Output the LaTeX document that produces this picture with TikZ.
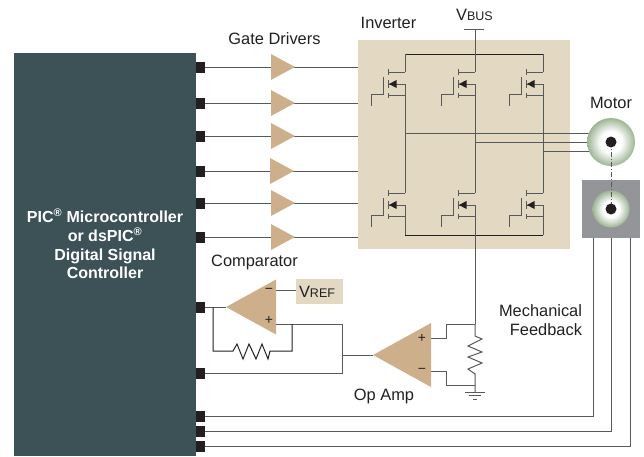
\documentclass[tikz,border=0pt]{standalone}
\usepackage{fontspec}
\setmainfont{Liberation Sans}
\usetikzlibrary{shapes.geometric}
\definecolor{mcucol}{HTML}{3C5257}
\definecolor{ampcol}{HTML}{CDB08B}
\definecolor{invcol}{HTML}{E3D9C3}
\definecolor{wirecol}{HTML}{58595B}
\definecolor{txtcol}{HTML}{231F20}
\definecolor{boxcol}{HTML}{939598}
\definecolor{rotorcol}{HTML}{9DB594}
\pgfdeclareradialshading{rotorshade}{\pgfpoint{0bp}{0bp}}{color(0bp)=(white); color(11bp)=(white); color(25bp)=(rotorcol); color(50bp)=(rotorcol)}
\tikzstyle{wire} = [wirecol,line width=1pt]
\tikzstyle{lbl} = [txtcol,font=\fontsize{16.4}{19}\selectfont,inner sep=0pt]
\tikzstyle{sign} = [txtcol,font=\fontsize{14}{16}\selectfont,inner sep=0pt]
\tikzstyle{padbox} = [fill=txtcol,minimum width=9pt,minimum height=11pt,inner sep=0pt,anchor=west]
\tikzstyle{amp} = [isosceles triangle,isosceles triangle stretches,fill=ampcol,inner sep=0pt,outer sep=0pt,anchor=apex]
\tikzstyle{rotor} = [circle,inner sep=0pt,outer sep=0pt,shading=rotorshade]
\tikzstyle{dot} = [circle,fill=txtcol,minimum size=11pt,inner sep=0pt]
\begin{document}
\begin{tikzpicture}[x=1pt,y=-1pt]
\useasboundingbox (0,0) rectangle (644,456);

%% controller
	\node[fill=mcucol,minimum width=182pt,minimum height=403pt,inner sep=0pt] (mcu) at (105,254.5) {};
	\node[white,align=center,font=\bfseries\fontsize{16}{18.7}\selectfont] (mculbl) at (105,244)
		{PIC\textsuperscript{\fontsize{11}{11}\selectfont\textregistered} Microcontroller\\or dsPIC\textsuperscript{\fontsize{11}{11}\selectfont\textregistered}\\Digital Signal\\Controller};

%% inverter
	\node[fill=invcol,minimum width=212pt,minimum height=209pt,inner sep=0pt] (inv) at (464,144.5) {};
	\node[lbl] (invlbl) at (388.5,23) {Inverter};

%% gate drivers
	\foreach \y/\x [count=\i] in {67/295,103/295,136/295,171/294,203/295,237/295} {
		\node[padbox] (pad\i) at (196,\y) {};
		\draw[wire] (pad\i.east) -- (pad\i.east -| inv.west);
		\node[amp,minimum width=26pt,minimum height=24pt] (drv\i) at (\x,\y) {};
	}
	\node[lbl] (drvlbl) at (274.5,39) {Gate Drivers};

%% rails
	\node[lbl] (vbus) at (474.5,15) {V{\fontsize{12.5}{15}\selectfont BUS}};
	\coordinate (bus) at (475,29);
	\coordinate (rail_a) at (405,54);
	\coordinate (rail_b) at (475,54);
	\coordinate (rail_c) at (543,54);
	\coordinate (gnd_a) at (405,235);
	\coordinate (gnd_c) at (543,235);
	\draw[wire] (464,29) -- (484,29);
	\draw[wire] (bus) -- (rail_b);
	\draw[txtcol,line width=1pt] (rail_a) -- (rail_c);
	\draw[txtcol,line width=1pt] (gnd_a) -- (gnd_c);

%% transistors
	\foreach \d in {405,475,543} {
		\foreach \t in {72,193} {
			\draw[wire] (\d-17,\t) -- (\d,\t);
			\draw[wire] (\d-17,\t+12) -- (\d,\t+12);
			\draw[wire] (\d-17,\t+23) -- (\d,\t+23);
			\draw[wire] (\d-17,\t-3) -- (\d-17,\t+3);
			\draw[wire] (\d-17,\t+8) -- (\d-17,\t+16);
			\draw[wire] (\d-17,\t+21) -- (\d-17,\t+26);
			\draw[wire] (\d-21.5,\t+5) -- (\d-21.5,\t+22) -- (\d-34,\t+22) -- (\d-34,\t+34);
			\fill[txtcol] (\d-16,\t+12) -- (\d-8.5,\t+8) -- (\d-8.5,\t+16) -- cycle;
		}
		\draw[wire] (\d,54) -- (\d,72);
		\draw[wire] (\d,84) -- (\d,193);
		\draw[wire] (\d,205) -- (\d,235);
	}

%% motor and feedback
	\node[fill=boxcol,minimum width=58pt,minimum height=58pt,inner sep=0pt] (fbbox) at (611,209) {};
	\coordinate (motor_w) at (600,142);
	\draw[wire] (405,133) -- (600,133);
	\draw[wire] (475,142) -- (motor_w);
	\draw[wire] (543,151) -- (600,151);
	\node[rotor,minimum size=48pt] (motor) at (611,142) {};
	\node[rotor,minimum size=37pt] (enc) at (611,209) {};
	\node[lbl] (motorlbl) at (611,103) {Motor};
	\draw[wirecol,line width=1pt,dash pattern=on 5pt off 2pt on 1pt off 2pt] (motor.center) -- (enc.center);
	\node[dot] (motordot) at (motor.center) {};
	\node[dot] (encdot) at (enc.center) {};
	\foreach \y/\x [count=\i from 7] in {416/593,431/611,446/630} {
		\node[padbox] (pad\i) at (196,\y) {};
		\draw[wire] (pad\i.east) -- (\x,\y) -- (\x,238);
	}
	\node[lbl,align=right] (fblbl) at (540.5,320) {Mechanical\\Feedback};

%% comparator
	\node[padbox] (pad10) at (196,307) {};
	\node[padbox] (pad11) at (196,373) {};
	\node[fill=invcol,minimum width=47pt,minimum height=25pt,inner sep=0pt] (vref) at (319.5,291.5) {};
	\node[lbl] (vreflbl) at (317,292) {V{\fontsize{12.5}{15}\selectfont REF}};
	\coordinate (fb_a) at (213,307);
	\coordinate (fb_b) at (213,351);
	\coordinate (fb_c) at (292,351);
	\coordinate (fb_d) at (292,324);
	\coordinate (sum) at (342,324);
	\coordinate (sum_b) at (342,373);
	\draw[wire] (pad10.east) -- (226,307);
	\draw[wire] (276,290) -- (vref.west |- 276,290);
	\draw[wire] (276,324) -- (sum) -- (sum_b) -- (pad11.east);
	\draw[txtcol,line width=1pt] (fb_a) -- (fb_b) -- (233,351) -- (237,344) -- (243,359) -- (249,344) -- (256,359) -- (262,344) -- (268,359) -- (270,351) -- (fb_c) -- (fb_d);
	\node[amp,minimum width=55pt,minimum height=50pt] (comp) at (226,307) [anchor=apex,shape border rotate=180] {};
	\node[sign] (compm) at (269,291) {\textminus};
	\node[sign] (compp) at (269,320) {+};
	\node[lbl] (complbl) at (254.5,262) {Comparator};

%% op amp
	\coordinate (sense) at (475,324);
	\coordinate (gnd) at (475,385);
	\draw[wire] (sum |- 0,355) -- (373,355);
	\draw[wire] (431,338) -- (446,338) -- (446,324) -- (sense);
	\draw[wire] (431,371) -- (446,371) -- (446,385) -- (gnd);
	\node[amp,minimum width=64pt,minimum height=58pt] (opamp) at (373,355) [anchor=apex,shape border rotate=180] {};
	\node[sign] (opp) at (422,338) {+};
	\node[sign] (opm) at (422,371) {\textminus};
	\node[lbl] (oplbl) at (384,396) {Op Amp};

%% sense resistor
	\draw[wire] (475,205) -- (sense);
	\draw[wire] (sense) -- (475,336) -- (482,339) -- (468,346) -- (482,352) -- (468,357) -- (482,363) -- (468,369) -- (475,374) -- (gnd) -- (475,392);
	\draw[wire] (465,392) -- (485,392);
	\draw[wire] (469,395.5) -- (481,395.5);
	\draw[wire] (473,399) -- (477,399);
\end{tikzpicture}
\end{document}
